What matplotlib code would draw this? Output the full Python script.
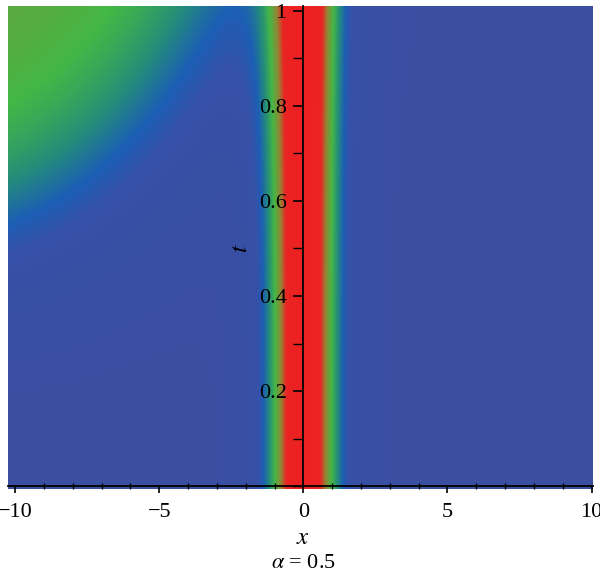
import numpy as np
import matplotlib.pyplot as plt
from matplotlib.colors import LinearSegmentedColormap
from matplotlib.ticker import MultipleLocator

plt.rcParams['mathtext.fontset'] = 'stix'
plt.rcParams['font.family'] = 'Liberation Serif'

# domain of the density plot
x_range = [-10.25, 10.05]
t_range = [-0.006, 1.01]

# soliton core: height, width, centre
core_amp = 1.0
core_width = 1.0
core_centre = 0.0

# growing term in the upper-left corner (saturating)
corner_amp = 2.28
corner_tpow = 3.5
corner_lin = 0.16
corner_quad = 0.018
corner_cap = 0.47

x_ticks = [-10, -5, 0, 5, 10]
t_ticks = [0.2, 0.4, 0.6, 0.8, 1.0]
t_ticklabels = ['0.2', '0.4', '0.6', '0.8', '1']

# blue -> green -> red shading
stops = [0.0, 0.16, 0.22, 0.31, 0.43, 0.58, 0.72, 1.0]
stop_colors = [(0.23, 0.31, 0.63), (0.21, 0.32, 0.66), (0.11, 0.37, 0.71),
               (0.14, 0.55, 0.48), (0.27, 0.72, 0.27), (0.58, 0.52, 0.20),
               (0.92, 0.14, 0.14), (0.93, 0.13, 0.13)]
cmap = LinearSegmentedColormap.from_list('bgr', list(zip(stops, stop_colors)))

xs = np.linspace(x_range[0], x_range[1], 900)
ts = np.linspace(0.0, t_range[1], 500)
X, T = np.meshgrid(xs, ts)
U = core_amp / np.cosh((X - core_centre) / core_width) ** 2
D = X + 10
P = corner_amp * T ** corner_tpow * np.exp(-corner_lin * D - corner_quad * D ** 2)
U += corner_cap * (1 - np.exp(-P / corner_cap))

fig = plt.figure(figsize=(6, 5.78), dpi=100)
ax = fig.add_axes([8 / 600, 89 / 578, 585 / 600, 483 / 578])
ax.imshow(U, origin='lower', aspect='auto', cmap=cmap, vmin=0, vmax=1,
          extent=[x_range[0], x_range[1], t_range[0], t_range[1]],
          interpolation='bilinear')
ax.set_xlim(x_range)
ax.set_ylim(t_range)

for s in ['top', 'right']:
    ax.spines[s].set_visible(False)
ax.spines['left'].set_position(('data', 0))
ax.spines['bottom'].set_position(('data', 0))
ax.spines['left'].set_linewidth(1.3)
ax.spines['bottom'].set_linewidth(1.3)
ax.spines['left'].set_bounds(0, 1.01)

ax.set_xticks(x_ticks)
ax.set_xticklabels([str(v).replace('-', '\u2212') for v in x_ticks])
ax.xaxis.set_minor_locator(MultipleLocator(1))
ax.set_yticks(t_ticks)
ax.set_yticklabels(t_ticklabels)
ax.yaxis.set_minor_locator(MultipleLocator(0.1))
ax.tick_params(axis='x', which='major', direction='out', length=5, width=1.2,
               labelsize=16, pad=7)
ax.tick_params(axis='x', which='minor', direction='inout', length=5, width=1)
ax.tick_params(axis='y', which='major', direction='out', length=7, width=1.2,
               labelsize=16, pad=5)
ax.tick_params(axis='y', which='minor', direction='out', length=7, width=1)

fig.text(241 / 600, 1 - 248 / 578, '$t$', fontsize=18, rotation=90,
         ha='center', va='center')
fig.text(303 / 600, 1 - 538 / 578, '$x$', fontsize=18, ha='center', va='center')
fig.text(303 / 600, 1 - 564 / 578, r'$\alpha$ = 0.5', fontsize=16,
         ha='center', va='center')

fig.savefig('out.png', dpi=100)
